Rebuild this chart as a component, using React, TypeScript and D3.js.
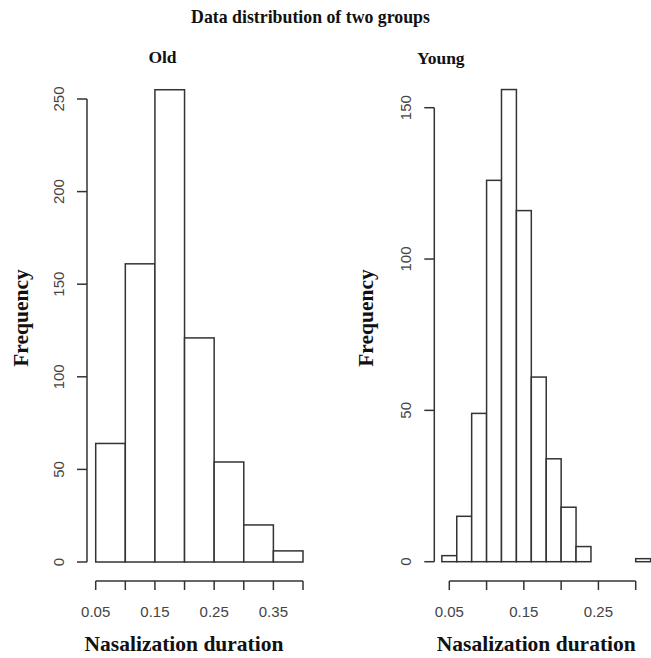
import React from "react";
import * as d3 from "d3";

const oldBreaks = [0.05, 0.10, 0.15, 0.20, 0.25, 0.30, 0.35, 0.40];
const oldCounts = [64, 161, 255, 121, 54, 20, 6];
const oldYTicks = [0, 50, 100, 150, 200, 250];
const oldXTicks = [0.05, 0.10, 0.15, 0.20, 0.25, 0.30, 0.35, 0.40];
const oldXLabels = [0.05, 0.15, 0.25, 0.35];

const youngBreaks = [0.04, 0.06, 0.08, 0.10, 0.12, 0.14, 0.16, 0.18, 0.20, 0.22, 0.24, 0.26, 0.28, 0.30, 0.32];
const youngCounts = [2, 15, 49, 126, 156, 116, 61, 34, 18, 5, 0, 0, 0, 1];
const youngYTicks = [0, 50, 100, 150];
const youngXTicks = [0.05, 0.10, 0.15, 0.20, 0.25, 0.30];
const youngXLabels = [0.05, 0.15, 0.25];

const STROKE = "#333";
const SERIF = "'Liberation Serif', 'Times New Roman', serif";
const SANS = "'Liberation Sans', Arial, sans-serif";

type PanelProps = {
  breaks: number[];
  counts: number[];
  yTicks: number[];
  xTicks: number[];
  xLabels: number[];
  xRange: [number, number];
  xDomain: [number, number];
  yRange: [number, number];
  yDomain: [number, number];
  yAxisX: number;
  xAxisY: number;
  yLabelX: number;
  yTickLabelX: number;
  xTitleX: number;
  title: string;
  titleX: number;
  titleY: number;
};

function Panel(p: PanelProps) {
  const x = d3.scaleLinear().domain(p.xDomain).range(p.xRange);
  const y = d3.scaleLinear().domain(p.yDomain).range(p.yRange);
  const fmt = d3.format(".2f");
  const bins = p.counts.map((c, i) => ({ x0: p.breaks[i], x1: p.breaks[i + 1], c }));
  const yMin = d3.min(p.yTicks) as number;
  const yMax = d3.max(p.yTicks) as number;
  const xMin = d3.min(p.xTicks) as number;
  const xMax = d3.max(p.xTicks) as number;
  return (
    <g>
      <text x={p.titleX} y={p.titleY} textAnchor="middle" fontFamily={SERIF} fontWeight="bold" fontSize={17.5} fill="#111">
        {p.title}
      </text>
      {bins.map((b, i) => (
        <rect
          key={i}
          x={x(b.x0)}
          y={y(b.c)}
          width={x(b.x1) - x(b.x0)}
          height={y(0) - y(b.c)}
          fill="white"
          stroke={STROKE}
          strokeWidth={1.5}
        />
      ))}
      <line x1={p.yAxisX} x2={p.yAxisX} y1={y(yMin)} y2={y(yMax)} stroke={STROKE} strokeWidth={1.5} />
      {p.yTicks.map((t) => (
        <g key={t}>
          <line x1={p.yAxisX - 10} x2={p.yAxisX} y1={y(t)} y2={y(t)} stroke={STROKE} strokeWidth={1.5} />
          <text
            transform={`translate(${p.yTickLabelX},${y(t)}) rotate(-90)`}
            textAnchor="middle"
            dy="0.35em"
            fontFamily={SANS}
            fontSize={15}
            fill="#444"
          >
            {t}
          </text>
        </g>
      ))}
      <line x1={x(xMin)} x2={x(xMax)} y1={p.xAxisY} y2={p.xAxisY} stroke={STROKE} strokeWidth={1.5} />
      {p.xTicks.map((t) => (
        <line key={t} x1={x(t)} x2={x(t)} y1={p.xAxisY} y2={p.xAxisY + 9} stroke={STROKE} strokeWidth={1.5} />
      ))}
      {p.xLabels.map((t) => (
        <text key={t} x={x(t)} y={617} textAnchor="middle" fontFamily={SANS} fontSize={15} fill="#444">
          {fmt(t)}
        </text>
      ))}
      <text x={p.xTitleX} y={651} textAnchor="middle" fontFamily={SERIF} fontWeight="bold" fontSize={21.5} fill="#111">
        Nasalization duration
      </text>
      <text
        transform={`translate(${p.yLabelX},318) rotate(-90)`}
        textAnchor="middle"
        fontFamily={SERIF}
        fontWeight="bold"
        fontSize={21.5}
        fill="#111"
      >
        Frequency
      </text>
    </g>
  );
}

export default function App() {
  return (
    <svg width={651} height={658} style={{ position: "absolute", left: 0, top: 0, background: "white" }}>
      <rect x={0} y={0} width={651} height={658} fill="white" />
      <text x={310.5} y={22.5} textAnchor="middle" fontFamily={SERIF} fontWeight="bold" fontSize={17.8} fill="#111">
        Data distribution of two groups
      </text>
      <Panel
        breaks={oldBreaks}
        counts={oldCounts}
        yTicks={oldYTicks}
        xTicks={oldXTicks}
        xLabels={oldXLabels}
        xDomain={[0.05, 0.4]}
        xRange={[95.7, 303]}
        yDomain={[0, 250]}
        yRange={[562, 99]}
        yAxisX={87}
        xAxisY={581}
        yLabelX={28}
        yTickLabelX={59}
        xTitleX={184}
        title="Old"
        titleX={162.5}
        titleY={63}
      />
      <Panel
        breaks={youngBreaks}
        counts={youngCounts}
        yTicks={youngYTicks}
        xTicks={youngXTicks}
        xLabels={youngXLabels}
        xDomain={[0.05, 0.3]}
        xRange={[449.3, 635.7]}
        yDomain={[0, 150]}
        yRange={[561.7, 107.7]}
        yAxisX={434.3}
        xAxisY={581}
        yLabelX={373}
        yTickLabelX={406}
        xTitleX={536.3}
        title="Young"
        titleX={440.8}
        titleY={64}
      />
    </svg>
  );
}
